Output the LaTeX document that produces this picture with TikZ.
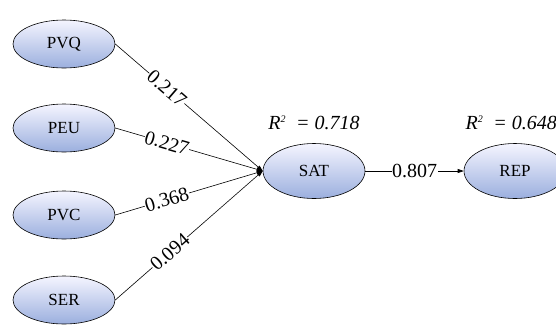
\documentclass[tikz,border=0pt]{standalone}
\usepackage{fontspec}
\setmainfont{Liberation Serif}
\usetikzlibrary{shapes.geometric,arrows.meta}
\begin{document}
\begin{tikzpicture}[x=1pt,y=-1pt,
  latent/.style={ellipse,draw=black,line width=0.6pt,top color=blue!4!white,bottom color={rgb,255:red,155;green,175;blue,222},
    minimum width=102pt,minimum height=48pt,inner sep=0pt,font=\fontsize{17}{19}\selectfont},
  latentbig/.style={latent,minimum height=55pt},
  path/.style={draw=black,line width=0.6pt,-{Triangle[length=6pt,width=4pt]}},
  coef/.style={fill=white,inner sep=0.5pt,font=\fontsize{20}{22}\selectfont},
  rsq/.style={font=\fontsize{20}{22}\selectfont\itshape}]
\useasboundingbox (0,0) rectangle (556,330);
\node[latent] (pvq) at (64,44) {PVQ};
\node[latent] (peu) at (64,128) {PEU};
\node[latent] (pvc) at (64,215) {PVC};
\node[latent] (ser) at (64,300) {SER};
\node[latentbig] (sat) at (314,171) {SAT};
\node[latentbig] (rep) at (515,171) {REP};
\node[rsq] (r1) at (314,123) {R\textsuperscript{\fontsize{10}{11}\selectfont 2}\ \ = 0.718};
\node[rsq,anchor=west] (r2) at (462,123) {R\textsuperscript{\fontsize{10}{11}\selectfont 2}\ \ = 0.648};
\draw[path] (pvq.east) -- node[coef,sloped,pos=0.35] {0.217} (sat.west);
\draw[path] (peu.east) -- node[coef,sloped,pos=0.35] {0.227} (sat.west);
\draw[path] (pvc.east) -- node[coef,sloped,pos=0.35] {0.368} (sat.west);
\draw[path] (ser.east) -- node[coef,sloped,pos=0.37] {0.094} (sat.west);
\draw[path] (sat.east) -- node[coef,pos=0.5] {0.807} (rep.west);
\end{tikzpicture}
\end{document}
